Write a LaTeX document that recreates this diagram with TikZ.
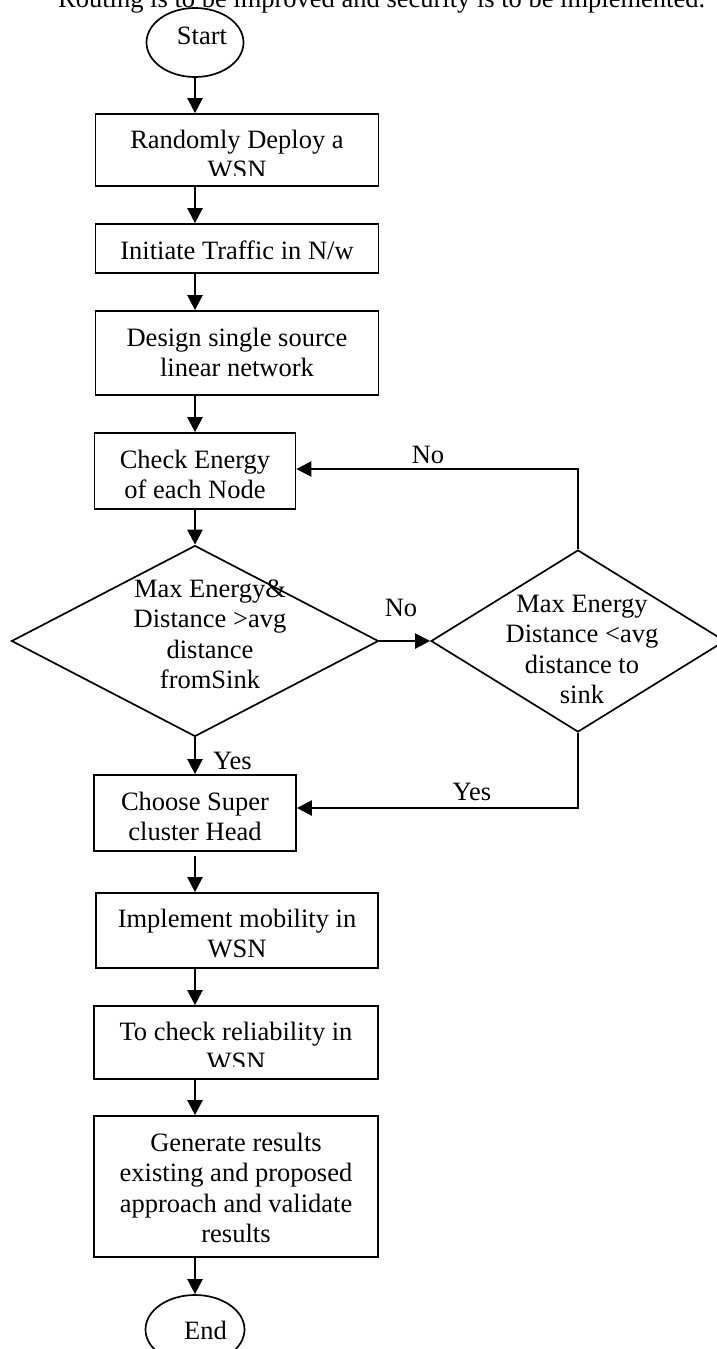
\documentclass[tikz,border=0pt]{standalone}
\usepackage{fontspec}
\setmainfont{Liberation Serif}
\usetikzlibrary{shapes.geometric,arrows.meta}
\newcommand\bxt[3]{\smash{\makebox[0pt][l]{\hspace*{#1}\makebox[0pt]{\raisebox{#2}{\begin{tabular}[t]{@{}c@{}}#3\end{tabular}}}}}}
\begin{document}
\begin{tikzpicture}[x=1pt,y=-1pt,
  every node/.style={font=\fontsize{26.5}{30.5}\selectfont, inner sep=0pt},
  stepbox/.style={draw, line width=1.7pt, rectangle},
  term/.style={draw, line width=1.7pt, ellipse},
  decision/.style={draw, line width=1.7pt, diamond},
  arr/.style={line width=2.3pt, -{Triangle[length=15pt,width=15pt]}},
  lbl/.style={anchor=base}]
\useasboundingbox (0,0) rectangle (717,1349);
\clip (0,0) rectangle (717,1349);

\node[anchor=base west] (title) at (58,7) {Routing is to be improved and security is to be implemented.};

\node[term, minimum width=97pt, minimum height=69pt] (s) at (195,42.5) {\bxt{7pt}{-1.5pt}{Start}};

\node[stepbox, minimum width=283pt, minimum height=72pt] (b1) at (237,150) {\bxt{0pt}{2pt}{Randomly Deploy a\\WSN}};
\fill[white] ([xshift=2.5pt,yshift=2pt]b1.south west) rectangle ([xshift=-2.5pt,yshift=10.5pt]b1.south east);

\node[stepbox, minimum width=283pt, minimum height=49pt] (b2) at (237,248.5) {\bxt{0pt}{-10.5pt}{Initiate Traffic in N/w}};
\node[stepbox, minimum width=283pt, minimum height=84pt] (b3) at (237,353) {\bxt{0pt}{7pt}{Design single source\\linear network}};
\node[stepbox, minimum width=201pt, minimum height=76pt] (b4) at (195,471) {\bxt{0pt}{3pt}{Check Energy\\of each Node}};

\node[decision, minimum width=367pt, minimum height=191pt] (d1) at (195,641) {\bxt{15pt}{44pt}{Max Energy\&\\Distance >avg\\distance\\fromSink}};
\node[decision, minimum width=294pt, minimum height=182pt] (d2) at (578,641) {\bxt{4pt}{29pt}{Max Energy\\Distance <avg\\distance to\\sink}};

\node[stepbox, minimum width=202pt, minimum height=76pt] (b5) at (195,813) {\bxt{0pt}{3pt}{Choose Super\\cluster Head}};
\node[stepbox, minimum width=282pt, minimum height=75pt] (b6) at (237,930.5) {\bxt{0pt}{3.5pt}{Implement mobility in\\WSN}};
\node[stepbox, minimum width=284pt, minimum height=73pt] (b7) at (236,1042.5) {\bxt{0pt}{2.5pt}{To check reliability in\\WSN}};
\fill[white] ([xshift=2.5pt,yshift=2pt]b7.south west) rectangle ([xshift=-2.5pt,yshift=12.5pt]b7.south east);
\node[stepbox, minimum width=284pt, minimum height=141pt] (b8) at (236,1186.5) {\bxt{0pt}{35.5pt}{Generate results\\existing and proposed\\approach and validate\\results}};
\node[term, minimum width=99pt, minimum height=69pt] (e) at (195,1329.5) {\bxt{10.5pt}{-9.5pt}{End}};

\node[lbl] (no1) at (401,616) {No};
\node[lbl] (no2) at (428,463) {No};
\node[lbl] (yes1) at (232.5,769) {Yes};
\node[lbl] (yes2) at (472,800) {Yes};

\draw[arr] (s.south) -- (s.south |- b1.north);
\draw[arr] (b1.south -| s.south) -- (b2.north -| s.south);
\draw[arr] (b2.south -| s.south) -- (b3.north -| s.south);
\draw[arr] (b3.south -| s.south) -- (b4.north);
\draw[arr] (b4.south) -- (d1.north);
\draw[arr] (d1.east) -- (d2.west);
\draw[arr] (d2.north) |- ([yshift=2pt]b4.east);
\draw[arr] (d1.south) -- (b5.north);
\draw[arr] (d2.south) |- ([yshift=5pt]b5.east);
\draw[arr, shorten <=4pt] (b5.south) -- (b5.south |- b6.north);
\draw[arr] (b6.south -| s.south) -- (b7.north -| s.south);
\draw[arr] (b7.south -| s.south) -- (b8.north -| s.south);
\draw[arr] (b8.south -| s.south) -- (e.north);
\end{tikzpicture}
\end{document}
